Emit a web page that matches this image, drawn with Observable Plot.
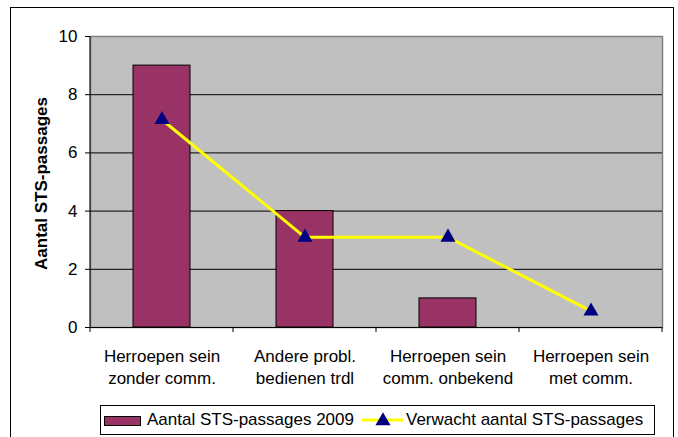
<!DOCTYPE html>
<html>
<head>
<meta charset="utf-8">
<script src="https://cdn.jsdelivr.net/npm/d3@7"></script>
<script src="https://cdn.jsdelivr.net/npm/@observablehq/plot@0.6"></script>
<style>
  html, body { margin: 0; padding: 0; background: #ffffff; }
  #chart { width: 678px; height: 437px; overflow: hidden; }
</style>
</head>
<body>
<div id="chart"></div>
<script>
// ---- data ----
const categories = ["c1", "c2", "c3", "c4"];
const categoryLabels = [
  "Herroepen sein\nzonder comm.",
  "Andere probl.\nbedienen trdl",
  "Herroepen sein\ncomm. onbekend",
  "Herroepen sein\nmet comm."
];
const actual2009 = [9, 4, 1, 0];
const expected = [7.14, 3.1, 3.1, 0.56];
const yTicks = [0, 2, 4, 6, 8, 10];
const seriesNames = ["Aantal STS-passages 2009", "Verwacht aantal STS-passages"];
const yTitle = "Aantal STS-passages";

const barData = categories.map((c, i) => ({cat: c, value: actual2009[i]}));
const lineData = categories.map((c, i) => ({cat: c, value: expected[i]}));
const labelData = categories.map((c, i) => ({cat: c, label: categoryLabels[i]}));

const FONT = "'Liberation Sans', Arial, sans-serif";
const BAR = "#993366";
const LINE = "#ffff00";
const MARK = "#000080";

const chart = Plot.plot({
  width: 678,
  height: 437,
  marginLeft: 90,
  marginRight: 16,
  marginTop: 36,
  marginBottom: 110,
  style: {fontFamily: FONT, fontSize: "17px", color: "#000", background: "#fff"},
  x: {type: "band", domain: categories, paddingInner: 0.6, paddingOuter: 0.3, axis: null},
  y: {domain: [0, 10], axis: null},
  marks: [
    Plot.frame({fill: "#c0c0c0", stroke: "#808080", strokeWidth: 1.5}),
    Plot.ruleY([2, 4, 6, 8], {stroke: "#000", strokeWidth: 1}),
    Plot.barY(barData, {x: "cat", y: "value", fill: BAR, stroke: "#000", strokeWidth: 1}),
    Plot.ruleY([0], {stroke: "#000", strokeWidth: 1}),
    Plot.axisY({ticks: yTicks, tickSize: 5, tickPadding: 8, fontSize: 17, label: null, stroke: "#000", fill: "#000"}),
    Plot.text(labelData, {x: "cat", y: () => 0, text: "label", dy: 19, lineAnchor: "top", fontSize: 17, lineHeight: 1.3, fill: "#000"}),
    Plot.line(lineData, {x: "cat", y: "value", stroke: LINE, strokeWidth: 3}),
    Plot.dot(lineData, {x: "cat", y: "value", symbol: "triangle", r: 5.6, fill: MARK, stroke: "none"})
  ]
});

document.getElementById("chart").appendChild(chart);

const svg = d3.select(chart);
const xs = chart.scale("x");
const ys = chart.scale("y");
const x0 = Math.min(...xs.range), x1 = Math.max(...xs.range);
const yBottom = Math.max(...ys.range), yTop = Math.min(...ys.range);
const step = (x1 - x0) / categories.length;

// left axis line
svg.append("line").attr("x1", x0).attr("x2", x0).attr("y1", yTop).attr("y2", yBottom)
  .attr("stroke", "#000");
// x tick marks at category boundaries
for (let i = 0; i <= categories.length; i++) {
  const xx = x0 + i * step;
  svg.append("line").attr("x1", xx).attr("x2", xx).attr("y1", yBottom).attr("y2", yBottom + 5)
    .attr("stroke", "#000");
}
// y axis title
svg.append("text")
  .attr("transform", `translate(41,${(yTop + yBottom) / 2 + 2}) rotate(-90)`)
  .attr("text-anchor", "middle").attr("dominant-baseline", "central")
  .attr("font-family", FONT).attr("font-size", 17).attr("font-weight", "bold")
  .attr("fill", "#000").text(yTitle);

// outer border
svg.append("rect").attr("x", 10.5).attr("y", 7.5).attr("width", 663).attr("height", 432)
  .attr("fill", "none").attr("stroke", "#000");

// legend
const lg = svg.append("g").attr("font-family", FONT).attr("font-size", 17)
  .attr("text-anchor", "start");
lg.append("rect").attr("x", 100.5).attr("y", 405.5).attr("width", 554).attr("height", 29)
  .attr("fill", "#fff").attr("stroke", "#000");
lg.append("rect").attr("x", 104.5).attr("y", 416.5).attr("width", 36).attr("height", 9)
  .attr("fill", BAR).attr("stroke", "#000");
lg.append("text").attr("x", 147).attr("y", 425).attr("text-anchor", "start")
  .attr("fill", "#000").text(seriesNames[0]);
lg.append("line").attr("x1", 362).attr("x2", 403).attr("y1", 420).attr("y2", 420)
  .attr("stroke", LINE).attr("stroke-width", 3);
lg.append("path").attr("d", d3.symbol(d3.symbolTriangle, 5.6 * 5.6 * Math.PI)())
  .attr("transform", "translate(383,421)").attr("fill", MARK);
lg.append("text").attr("x", 406).attr("y", 425).attr("text-anchor", "start")
  .attr("fill", "#000").text(seriesNames[1]);
</script>
</body>
</html>
